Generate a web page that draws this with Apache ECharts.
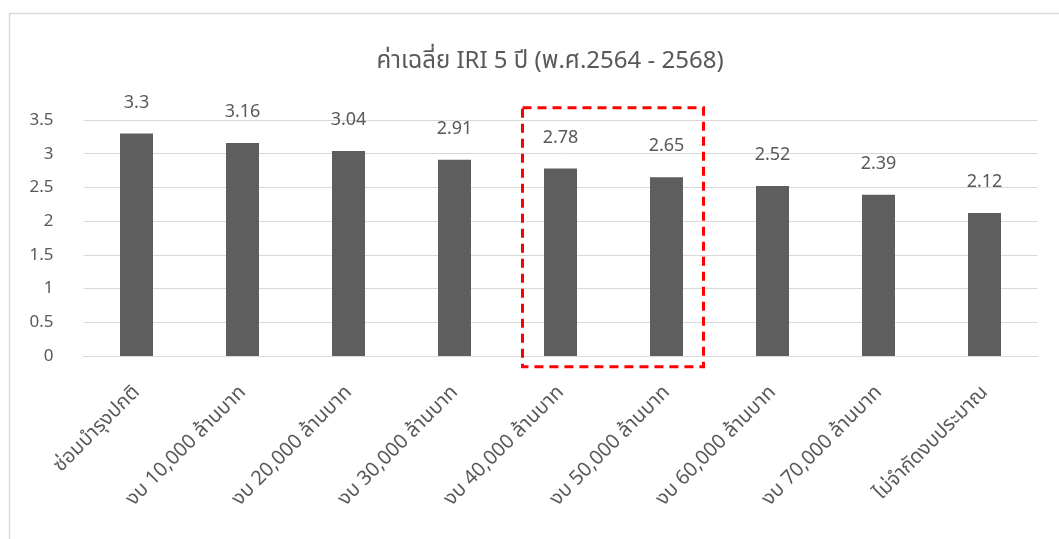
<!DOCTYPE html>
<html><head><meta charset="utf-8">
<script src="https://cdn.jsdelivr.net/npm/echarts@6/dist/echarts.min.js"></script>
<style>html,body{margin:0;padding:0;background:#fff}#c{width:1059px;height:539px}</style>
</head><body><div id="c"></div>
<script>
const titleText = 'ค่าเฉลี่ย IRI 5 ปี (พ.ศ.2564 - 2568)';
const categories = ['ซ่อมบำรุงปกติ','งบ 10,000 ล้านบาท','งบ 20,000 ล้านบาท','งบ 30,000 ล้านบาท','งบ 40,000 ล้านบาท','งบ 50,000 ล้านบาท','งบ 60,000 ล้านบาท','งบ 70,000 ล้านบาท','ไม่จำกัดงบประมาณ'];
const values = [3.3, 3.16, 3.04, 2.91, 2.78, 2.65, 2.52, 2.39, 2.12];
const highlightRange = [4, 5];

const FONT = "'Noto Sans', 'Noto Sans Thai', 'Liberation Sans', sans-serif";
const chart = echarts.init(document.getElementById('c'), null, {renderer:'canvas'});
const option = {
  animation:false,
  textStyle:{fontFamily:FONT},
  title:{text:titleText, left:545, top:44, textAlign:'center',
    textStyle:{fontFamily:FONT, fontSize:24, fontWeight:'normal', color:'#595959'}},
  grid:{left:83.5, right:21.5, top:120, bottom:183},
  xAxis:{type:'category', data:categories,
    axisLine:{show:true, lineStyle:{color:'#d9d9d9'}},
    axisTick:{show:false},
    axisLabel:{rotate:45, margin:33, color:'#595959', fontSize:20, fontFamily:FONT, interval:0}},
  yAxis:{type:'value', min:0, max:3.5, interval:0.5,
    axisLine:{show:false}, axisTick:{show:false},
    splitLine:{lineStyle:{color:'#d9d9d9', width:1}},
    axisLabel:{margin:30, color:'#595959', fontSize:17, fontFamily:FONT}},
  series:[{type:'bar', data:values, barWidth:33,
    itemStyle:{color:'#5e5e5e'},
    label:{show:true, position:'top', distance:22, color:'#595959', fontSize:18, fontFamily:FONT}}],
  graphic:[{type:'rect', left:7, top:11, shape:{width:1100, height:600},
    style:{fill:'none', stroke:'#d9d9d9', lineWidth:1.5}, silent:true, z:-10}]
};
chart.setOption(option);
// dashed highlight box around the chosen categories, positioned via axis scale
const p0 = chart.convertToPixel({gridIndex:0}, [categories[highlightRange[0]], 3.68]);
const p1 = chart.convertToPixel({gridIndex:0}, [categories[highlightRange[1]], -0.16]);
chart.setOption({graphic:[option.graphic[0], {type:'rect', silent:true, z:100,
  shape:{x:p0[0]-38, y:p0[1], width:(p1[0]+37)-(p0[0]-38), height:p1[1]-p0[1]},
  style:{fill:'none', stroke:'#ff0000', lineWidth:3, lineDash:[9,6]}}]});
</script></body></html>
